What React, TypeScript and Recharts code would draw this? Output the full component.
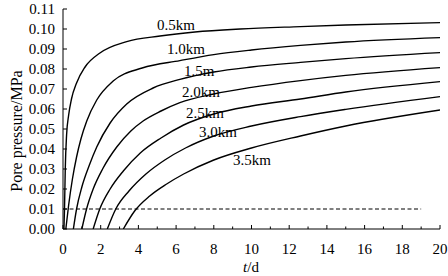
import React from 'react';
import { LineChart, Line, XAxis, YAxis, ReferenceDot, Label } from 'recharts';

// time (d) and pore pressure (MPa) for each distance
const t05 = [0.05, 0.08, 0.12, 0.19, 0.3, 0.45, 0.72, 1.17, 1.96, 3.38, 5.15, 7, 9.4, 12.6, 15, 20];
const p05 = [0, 0.01, 0.03, 0.047, 0.057, 0.065, 0.073, 0.081, 0.088, 0.0937, 0.0965, 0.0985, 0.1, 0.1012, 0.102, 0.1032];

const t10 = [0.15, 0.3, 0.5, 0.72, 0.95, 1.26, 1.79, 2.66, 4.2, 6.2, 8, 10, 12.6, 15, 20];
const p10 = [0, 0.012, 0.025, 0.036, 0.045, 0.054, 0.0645, 0.074, 0.0805, 0.0842, 0.0872, 0.0895, 0.0918, 0.0935, 0.0957];

const t15 = [0.55, 0.72, 1.0, 1.4, 1.79, 2.5, 3.38, 4.78, 6.2, 8, 10, 12.6, 15, 20];
const p15 = [0, 0.01, 0.021, 0.032, 0.041, 0.053, 0.0625, 0.0705, 0.0748, 0.0785, 0.081, 0.0833, 0.0852, 0.0882];

const t20 = [1.0, 1.25, 1.6, 2.1, 2.85, 3.6, 4.25, 5.2, 6.2, 8, 10, 12.6, 15, 20];
const p20 = [0, 0.01, 0.02, 0.03, 0.041, 0.049, 0.054, 0.059, 0.0632, 0.0675, 0.0708, 0.0742, 0.0768, 0.0807];

const t25 = [1.6, 1.95, 2.5, 3.2, 4.1, 5.2, 6.4, 8, 10, 12.6, 15, 20];
const p25 = [0, 0.01, 0.02, 0.029, 0.038, 0.0455, 0.052, 0.0575, 0.0615, 0.065, 0.0685, 0.0737];

const t30 = [2.35, 2.8, 3.5, 4.4, 5.4, 6.5, 8, 10, 12.6, 15, 20];
const p30 = [0, 0.01, 0.019, 0.0275, 0.0345, 0.0405, 0.0465, 0.0515, 0.0562, 0.0598, 0.0662];

const t35 = [3.2, 3.8, 4.6, 5.5, 6.4, 8, 10, 12.6, 15, 20];
const p35 = [0, 0.009, 0.0165, 0.0225, 0.0275, 0.0345, 0.0405, 0.0465, 0.0515, 0.0595];

// threshold line
const tThreshold = [0, 19];
const pThreshold = [0.01, 0.01];

// curve labels
const labelText = ['0.5km', '1.0km', '1.5m', '2.0km', '2.5km', '3.0km', '3.5km'];
const labelT = [4.99, 5.52, 6.42, 6.31, 6.53, 7.21, 9.02];
const labelP = [0.0995, 0.0875, 0.0765, 0.066, 0.0555, 0.046, 0.032];

const xTicks = [0, 1, 2, 3, 4, 5, 6, 7, 8, 9, 10, 11, 12, 13, 14, 15, 16, 17, 18, 19, 20];
const yTicks = [0, 0.01, 0.02, 0.03, 0.04, 0.05, 0.06, 0.07, 0.08, 0.09, 0.1, 0.11];

const zip = (ts: number[], ps: number[]) => ts.map((t, i) => ({ t, p: ps[i] }));

const series = [
  zip(t05, p05),
  zip(t10, p10),
  zip(t15, p15),
  zip(t20, p20),
  zip(t25, p25),
  zip(t30, p30),
  zip(t35, p35),
];
const threshold = zip(tThreshold, pThreshold);

const FONT = '"Liberation Serif", "Times New Roman", serif';

const XTick = (props: any) => {
  const { x, y, payload } = props;
  const v = payload.value;
  const major = v % 2 === 0;
  return (
    <g>
      <line x1={x} x2={x} y1={y} y2={y - (major ? 4 : 2.5)} stroke="#000" strokeWidth={1} />
      {major && (
        <text x={x} y={y + 25} textAnchor="middle" fontFamily={FONT} fontSize={15} fill="#000">
          {v}
        </text>
      )}
    </g>
  );
};

const YTick = (props: any) => {
  const { x, y, payload } = props;
  const v = payload.value;
  return (
    <g>
      <line x1={x} x2={x + 4} y1={y} y2={y} stroke="#000" strokeWidth={1} />
      <text x={x - 8} y={y + 5} textAnchor="end" fontFamily={FONT} fontSize={15} fill="#000">
        {v.toFixed(2)}
      </text>
    </g>
  );
};

export default function App() {
  return (
    <div style={{ position: 'absolute', left: 0, top: 0, width: 448, height: 276, background: '#fff' }}>
      <LineChart width={448} height={276} margin={{ top: 9, right: 8, bottom: 0, left: 0 }}>
        <XAxis
          type="number"
          dataKey="t"
          domain={[0, 20]}
          ticks={xTicks}
          interval={0}
          allowDataOverflow
          height={47}
          tickSize={0}
          tickMargin={0}
          tickLine={false}
          tick={<XTick />}
          axisLine={{ stroke: '#000', strokeWidth: 1 }}
        >
          <Label
            content={() => (
              <text x={251} y={272} textAnchor="middle" fontFamily={FONT} fontSize={15} fill="#000">
                <tspan fontStyle="italic">t</tspan>
                <tspan>/d</tspan>
              </text>
            )}
          />
        </XAxis>
        <YAxis
          type="number"
          domain={[0, 0.11]}
          ticks={yTicks}
          interval={0}
          allowDataOverflow
          width={63}
          tickSize={0}
          tickMargin={0}
          tickLine={false}
          tick={<YTick />}
          axisLine={{ stroke: '#000', strokeWidth: 1 }}
        >
          <Label
            content={() => (
              <text
                transform="translate(22,131) rotate(-90)"
                textAnchor="middle"
                fontFamily={FONT}
                fontSize={16}
                fill="#000"
              >
                Pore pressure/MPa
              </text>
            )}
          />
        </YAxis>
        <Line
          data={threshold}
          dataKey="p"
          type="linear"
          stroke="#000"
          strokeWidth={1}
          strokeDasharray="4 2.5"
          dot={false}
          activeDot={false}
          isAnimationActive={false}
        />
        {series.map((d, i) => (
          <Line
            key={i}
            data={d}
            dataKey="p"
            type="monotone"
            stroke="#000"
            strokeWidth={1.4}
            dot={false}
            activeDot={false}
            isAnimationActive={false}
          />
        ))}
        {labelText.map((txt, i) => (
          <ReferenceDot
            key={txt}
            x={labelT[i]}
            y={labelP[i]}
            r={0}
            ifOverflow="visible"
            shape={(props: any) => (
              <text x={props.cx} y={props.cy} fontFamily={FONT} fontSize={15} fill="#000">
                {txt}
              </text>
            )}
          />
        ))}
      </LineChart>
    </div>
  );
}
